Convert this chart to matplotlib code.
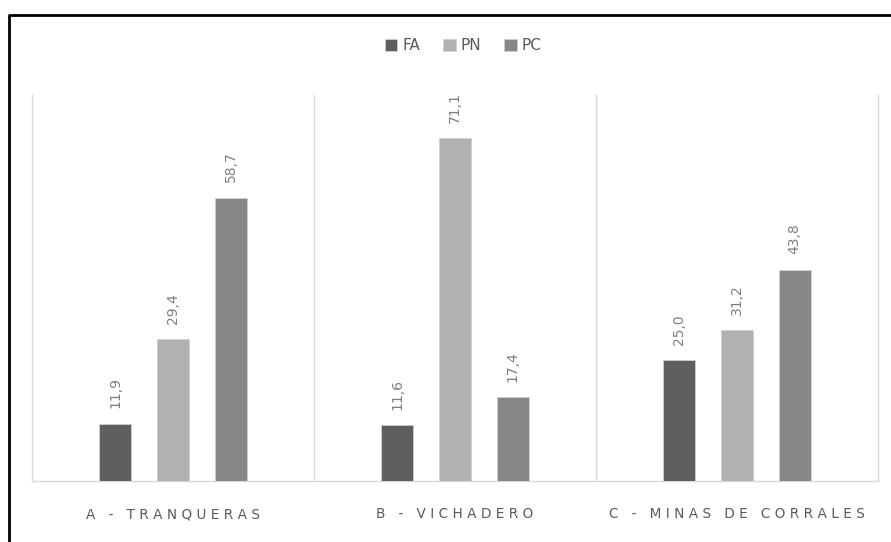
import matplotlib.pyplot as plt
import numpy as np
from matplotlib.lines import Line2D

categories = ["A - TRANQUERAS", "B - VICHADERO", "C - MINAS DE CORRALES"]
series_names = ["FA", "PN", "PC"]
fa = [11.9, 11.6, 25.0]
pn = [29.4, 71.1, 31.2]
pc = [58.7, 17.4, 43.8]
colors = ["#5f5f5f", "#b1b1b1", "#878787"]

values = [fa, pn, pc]
x = np.arange(len(categories))
offsets = [-0.205, 0.0, 0.205]
width = 0.113

fig = plt.figure(figsize=(8.91, 5.42), dpi=100)
ax = fig.add_axes([32 / 891, 61 / 542, 846 / 891, 386 / 542])

for vals, off, col, name in zip(values, offsets, colors, series_names):
    bars = ax.bar(x + off, vals, width, color=col, edgecolor="#d0d0d0",
                  linewidth=0.6, label=name, zorder=3)
    for b, v in zip(bars, vals):
        ax.text(b.get_x() + b.get_width() / 2, v + 3.2, f"{v:.1f}".replace(".", ","),
                rotation=90, ha="center", va="bottom", fontsize=10,
                color="#7f7f7f")

ax.set_xlim(-0.5, 2.5)
ax.set_ylim(0, 80)
ax.set_yticks([])
ax.set_xticks(x)
ax.set_xticklabels([" ".join(c) for c in categories], fontsize=9.8, color="#595959")
ax.tick_params(axis="x", length=0, pad=19)
ax.set_xticks([0.5, 1.5], minor=True)
ax.tick_params(axis="x", which="minor", length=0)
ax.grid(True, axis="x", which="minor", color="#d9d9d9", linewidth=1)
ax.spines["top"].set_visible(False)
for s in ["left", "right", "bottom"]:
    ax.spines[s].set_color("#d9d9d9")
    ax.spines[s].set_linewidth(1)

ax.legend(loc="center", bbox_to_anchor=(0.51, 1.127), ncol=3, frameon=False,
          fontsize=11, labelcolor="#595959", handlelength=0.8, handleheight=0.8,
          handletextpad=0.35, columnspacing=1.5)

# outer frame (only left and top edges visible)
fx = 9 / 891
fy = 1 - 15 / 542
fig.add_artist(Line2D([fx, fx, 1.0], [0.0, fy, fy], transform=fig.transFigure,
                      color="black", linewidth=2))

fig.savefig("out.png", dpi=100)
